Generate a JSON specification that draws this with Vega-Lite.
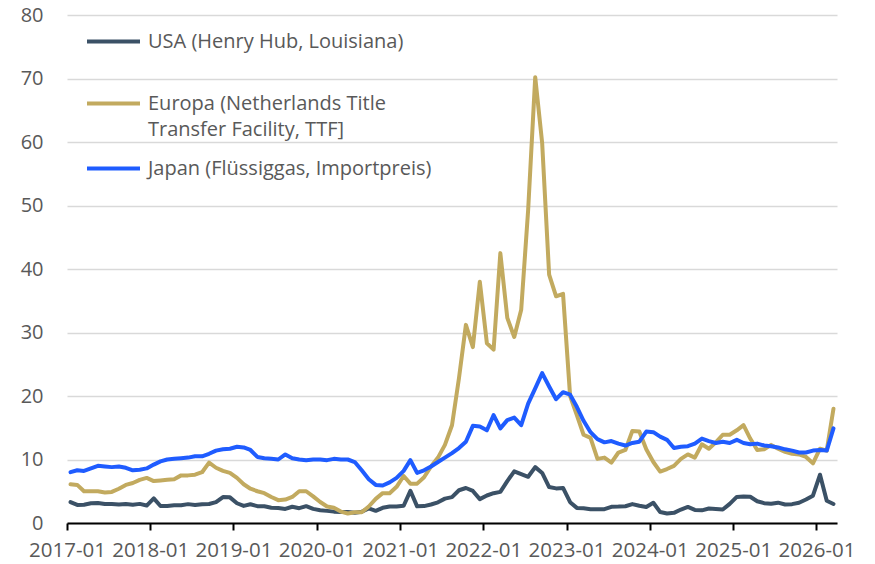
{
  "$schema": "https://vega.github.io/schema/vega-lite/v6.json",
  "width": 770,
  "height": 508,
  "autosize": {"type": "none"},
  "padding": {"left": 67, "top": 15, "right": 38, "bottom": 41},
  "background": "white",
  "config": {"font": "Open Sans", "view": {"stroke": null}},
  "data": {"values": [
    {"date": "2017-01", "USA": 3.30, "Europa": 6.1, "Japan": 8.0},
    {"date": "2017-02", "USA": 2.85, "Europa": 6.0, "Japan": 8.3},
    {"date": "2017-03", "USA": 2.88, "Europa": 5.0, "Japan": 8.2},
    {"date": "2017-04", "USA": 3.10, "Europa": 5.0, "Japan": 8.6},
    {"date": "2017-05", "USA": 3.15, "Europa": 5.0, "Japan": 9.0},
    {"date": "2017-06", "USA": 2.98, "Europa": 4.8, "Japan": 8.9},
    {"date": "2017-07", "USA": 2.98, "Europa": 4.9, "Japan": 8.8},
    {"date": "2017-08", "USA": 2.90, "Europa": 5.4, "Japan": 8.9},
    {"date": "2017-09", "USA": 2.98, "Europa": 6.0, "Japan": 8.7},
    {"date": "2017-10", "USA": 2.88, "Europa": 6.3, "Japan": 8.3},
    {"date": "2017-11", "USA": 3.01, "Europa": 6.8, "Japan": 8.4},
    {"date": "2017-12", "USA": 2.75, "Europa": 7.1, "Japan": 8.6},
    {"date": "2018-01", "USA": 3.87, "Europa": 6.6, "Japan": 9.2},
    {"date": "2018-02", "USA": 2.67, "Europa": 6.7, "Japan": 9.7},
    {"date": "2018-03", "USA": 2.69, "Europa": 6.8, "Japan": 10.0},
    {"date": "2018-04", "USA": 2.80, "Europa": 6.9, "Japan": 10.1},
    {"date": "2018-05", "USA": 2.80, "Europa": 7.5, "Japan": 10.2},
    {"date": "2018-06", "USA": 2.97, "Europa": 7.5, "Japan": 10.3},
    {"date": "2018-07", "USA": 2.83, "Europa": 7.6, "Japan": 10.5},
    {"date": "2018-08", "USA": 2.96, "Europa": 8.0, "Japan": 10.5},
    {"date": "2018-09", "USA": 2.99, "Europa": 9.5, "Japan": 10.9},
    {"date": "2018-10", "USA": 3.28, "Europa": 8.7, "Japan": 11.4},
    {"date": "2018-11", "USA": 4.09, "Europa": 8.2, "Japan": 11.6},
    {"date": "2018-12", "USA": 4.04, "Europa": 7.9, "Japan": 11.7},
    {"date": "2019-01", "USA": 3.11, "Europa": 7.1, "Japan": 12.0},
    {"date": "2019-02", "USA": 2.69, "Europa": 6.1, "Japan": 11.9},
    {"date": "2019-03", "USA": 2.95, "Europa": 5.4, "Japan": 11.5},
    {"date": "2019-04", "USA": 2.65, "Europa": 5.0, "Japan": 10.4},
    {"date": "2019-05", "USA": 2.64, "Europa": 4.7, "Japan": 10.2},
    {"date": "2019-06", "USA": 2.40, "Europa": 4.1, "Japan": 10.1},
    {"date": "2019-07", "USA": 2.37, "Europa": 3.6, "Japan": 10.0},
    {"date": "2019-08", "USA": 2.22, "Europa": 3.7, "Japan": 10.8},
    {"date": "2019-09", "USA": 2.56, "Europa": 4.1, "Japan": 10.2},
    {"date": "2019-10", "USA": 2.33, "Europa": 5.0, "Japan": 10.0},
    {"date": "2019-11", "USA": 2.65, "Europa": 5.0, "Japan": 9.9},
    {"date": "2019-12", "USA": 2.22, "Europa": 4.2, "Japan": 10.0},
    {"date": "2020-01", "USA": 2.02, "Europa": 3.3, "Japan": 10.0},
    {"date": "2020-02", "USA": 1.91, "Europa": 2.6, "Japan": 9.9},
    {"date": "2020-03", "USA": 1.79, "Europa": 2.4, "Japan": 10.1},
    {"date": "2020-04", "USA": 1.74, "Europa": 1.8, "Japan": 10.0},
    {"date": "2020-05", "USA": 1.75, "Europa": 1.5, "Japan": 10.0},
    {"date": "2020-06", "USA": 1.63, "Europa": 1.7, "Japan": 9.6},
    {"date": "2020-07", "USA": 1.77, "Europa": 1.7, "Japan": 8.3},
    {"date": "2020-08", "USA": 2.30, "Europa": 2.6, "Japan": 6.9},
    {"date": "2020-09", "USA": 1.92, "Europa": 3.8, "Japan": 6.0},
    {"date": "2020-10", "USA": 2.39, "Europa": 4.7, "Japan": 5.9},
    {"date": "2020-11", "USA": 2.61, "Europa": 4.7, "Japan": 6.4},
    {"date": "2020-12", "USA": 2.59, "Europa": 5.7, "Japan": 7.1},
    {"date": "2021-01", "USA": 2.71, "Europa": 7.4, "Japan": 8.2},
    {"date": "2021-02", "USA": 5.07, "Europa": 6.2, "Japan": 9.9},
    {"date": "2021-03", "USA": 2.62, "Europa": 6.2, "Japan": 7.9},
    {"date": "2021-04", "USA": 2.66, "Europa": 7.2, "Japan": 8.3},
    {"date": "2021-05", "USA": 2.91, "Europa": 8.9, "Japan": 8.9},
    {"date": "2021-06", "USA": 3.26, "Europa": 10.3, "Japan": 9.6},
    {"date": "2021-07", "USA": 3.84, "Europa": 12.3, "Japan": 10.3},
    {"date": "2021-08", "USA": 4.07, "Europa": 15.4, "Japan": 11.0},
    {"date": "2021-09", "USA": 5.16, "Europa": 22.8, "Japan": 11.8},
    {"date": "2021-10", "USA": 5.51, "Europa": 31.2, "Japan": 12.8},
    {"date": "2021-11", "USA": 5.05, "Europa": 27.7, "Japan": 15.3},
    {"date": "2021-12", "USA": 3.76, "Europa": 38.0, "Japan": 15.2},
    {"date": "2022-01", "USA": 4.33, "Europa": 28.3, "Japan": 14.6},
    {"date": "2022-02", "USA": 4.69, "Europa": 27.3, "Japan": 17.0},
    {"date": "2022-03", "USA": 4.90, "Europa": 42.5, "Japan": 14.9},
    {"date": "2022-04", "USA": 6.60, "Europa": 32.3, "Japan": 16.2},
    {"date": "2022-05", "USA": 8.14, "Europa": 29.3, "Japan": 16.6},
    {"date": "2022-06", "USA": 7.70, "Europa": 33.6, "Japan": 15.4},
    {"date": "2022-07", "USA": 7.28, "Europa": 49.3, "Japan": 18.8},
    {"date": "2022-08", "USA": 8.80, "Europa": 70.2, "Japan": 21.2},
    {"date": "2022-09", "USA": 7.88, "Europa": 59.8, "Japan": 23.6},
    {"date": "2022-10", "USA": 5.66, "Europa": 39.1, "Japan": 21.5},
    {"date": "2022-11", "USA": 5.45, "Europa": 35.7, "Japan": 19.5},
    {"date": "2022-12", "USA": 5.53, "Europa": 36.1, "Japan": 20.6},
    {"date": "2023-01", "USA": 3.27, "Europa": 20.0, "Japan": 20.2},
    {"date": "2023-02", "USA": 2.38, "Europa": 17.0, "Japan": 18.3},
    {"date": "2023-03", "USA": 2.31, "Europa": 13.9, "Japan": 16.1},
    {"date": "2023-04", "USA": 2.16, "Europa": 13.4, "Japan": 14.3},
    {"date": "2023-05", "USA": 2.15, "Europa": 10.1, "Japan": 13.2},
    {"date": "2023-06", "USA": 2.18, "Europa": 10.3, "Japan": 12.7},
    {"date": "2023-07", "USA": 2.55, "Europa": 9.5, "Japan": 12.9},
    {"date": "2023-08", "USA": 2.58, "Europa": 11.1, "Japan": 12.5},
    {"date": "2023-09", "USA": 2.64, "Europa": 11.5, "Japan": 12.2},
    {"date": "2023-10", "USA": 2.98, "Europa": 14.5, "Japan": 12.6},
    {"date": "2023-11", "USA": 2.71, "Europa": 14.4, "Japan": 12.8},
    {"date": "2023-12", "USA": 2.52, "Europa": 11.6, "Japan": 14.4},
    {"date": "2024-01", "USA": 3.18, "Europa": 9.6, "Japan": 14.3},
    {"date": "2024-02", "USA": 1.72, "Europa": 8.1, "Japan": 13.6},
    {"date": "2024-03", "USA": 1.49, "Europa": 8.5, "Japan": 13.1},
    {"date": "2024-04", "USA": 1.60, "Europa": 9.0, "Japan": 11.8},
    {"date": "2024-05", "USA": 2.12, "Europa": 10.1, "Japan": 12.0},
    {"date": "2024-06", "USA": 2.53, "Europa": 10.8, "Japan": 12.1},
    {"date": "2024-07", "USA": 2.06, "Europa": 10.3, "Japan": 12.5},
    {"date": "2024-08", "USA": 1.99, "Europa": 12.4, "Japan": 13.3},
    {"date": "2024-09", "USA": 2.28, "Europa": 11.7, "Japan": 12.9},
    {"date": "2024-10", "USA": 2.20, "Europa": 12.7, "Japan": 12.6},
    {"date": "2024-11", "USA": 2.12, "Europa": 13.9, "Japan": 12.8},
    {"date": "2024-12", "USA": 3.01, "Europa": 13.9, "Japan": 12.6},
    {"date": "2025-01", "USA": 4.11, "Europa": 14.6, "Japan": 13.1},
    {"date": "2025-02", "USA": 4.19, "Europa": 15.4, "Japan": 12.6},
    {"date": "2025-03", "USA": 4.13, "Europa": 13.3, "Japan": 12.4},
    {"date": "2025-04", "USA": 3.42, "Europa": 11.5, "Japan": 12.5},
    {"date": "2025-05", "USA": 3.12, "Europa": 11.6, "Japan": 12.2},
    {"date": "2025-06", "USA": 3.02, "Europa": 12.3, "Japan": 12.1},
    {"date": "2025-07", "USA": 3.20, "Europa": 11.7, "Japan": 11.9},
    {"date": "2025-08", "USA": 2.91, "Europa": 11.2, "Japan": 11.6},
    {"date": "2025-09", "USA": 2.97, "Europa": 10.9, "Japan": 11.4},
    {"date": "2025-10", "USA": 3.19, "Europa": 10.8, "Japan": 11.1},
    {"date": "2025-11", "USA": 3.70, "Europa": 10.4, "Japan": 11.1},
    {"date": "2025-12", "USA": 4.30, "Europa": 9.4, "Japan": 11.4},
    {"date": "2026-01", "USA": 7.60, "Europa": 11.7, "Japan": 11.5},
    {"date": "2026-02", "USA": 3.50, "Europa": 11.4, "Japan": 11.4},
    {"date": "2026-03", "USA": 3.00, "Europa": 18.0, "Japan": 14.9}
  ]},
  "transform": [{"fold": ["USA", "Europa", "Japan"], "as": ["series", "value"]}],
  "mark": {"type": "line", "strokeWidth": 4, "strokeJoin": "round", "strokeCap": "round"},
  "encoding": {
    "x": {
      "field": "date",
      "timeUnit": "utcyearmonth",
      "type": "temporal",
      "bandPosition": 0.5,
      "scale": {
        "domain": [
          {"year": 2017, "month": 1, "date": 1, "utc": true},
          {"year": 2026, "month": 4, "date": 1, "utc": true}
        ],
        "nice": false
      },
      "axis": {
        "title": null,
        "values": [
          {"year": 2017, "month": 1, "date": 1, "utc": true},
          {"year": 2018, "month": 1, "date": 1, "utc": true},
          {"year": 2019, "month": 1, "date": 1, "utc": true},
          {"year": 2020, "month": 1, "date": 1, "utc": true},
          {"year": 2021, "month": 1, "date": 1, "utc": true},
          {"year": 2022, "month": 1, "date": 1, "utc": true},
          {"year": 2023, "month": 1, "date": 1, "utc": true},
          {"year": 2024, "month": 1, "date": 1, "utc": true},
          {"year": 2025, "month": 1, "date": 1, "utc": true},
          {"year": 2026, "month": 1, "date": 1, "utc": true}
        ],
        "labelExpr": "utcFormat(datum.value, '%Y-%m')",
        "grid": false,
        "domainColor": "#000000",
        "domainWidth": 2,
        "tickColor": "#000000",
        "tickWidth": 2,
        "tickSize": 7,
        "labelFontSize": 20.5,
        "labelColor": "#595959",
        "labelPadding": 10,
        "labelFlush": false,
        "labelOverlap": false
      }
    },
    "y": {
      "field": "value",
      "type": "quantitative",
      "scale": {"domain": [0, 80], "nice": false},
      "axis": {
        "title": null,
        "values": [0, 10, 20, 30, 40, 50, 60, 70, 80],
        "domain": false,
        "ticks": false,
        "labelPadding": 24,
        "labelFontSize": 20,
        "labelColor": "#595959",
        "gridColor": "#d9d9d9",
        "gridWidth": 1.5
      }
    },
    "color": {
      "field": "series",
      "type": "nominal",
      "sort": ["USA", "Europa", "Japan"],
      "scale": {"domain": ["USA", "Europa", "Japan"], "range": ["#3b5166", "#c2aa5f", "#1f5cff"]},
      "legend": {
        "title": null,
        "orient": "none",
        "legendX": 18,
        "legendY": -2,
        "symbolType": "stroke",
        "symbolSize": 2809,
        "symbolStrokeWidth": 4,
        "labelFontSize": 20,
        "labelColor": "#595959",
        "labelOffset": 6,
        "labelLimit": 500,
        "rowPadding": 0,
        "labelExpr": "datum.label == 'USA' ? ['USA (Henry Hub, Louisiana)', ' '] : datum.label == 'Europa' ? ['Europa (Netherlands Title', 'Transfer Facility, TTF]'] : 'Japan (Flüssiggas, Importpreis)'",
        "encode": {
          "labels": {"update": {"lineHeight": {"signal": "datum.value === 'USA' ? 23 : 26"}}}
        }
      }
    }
  }
}
